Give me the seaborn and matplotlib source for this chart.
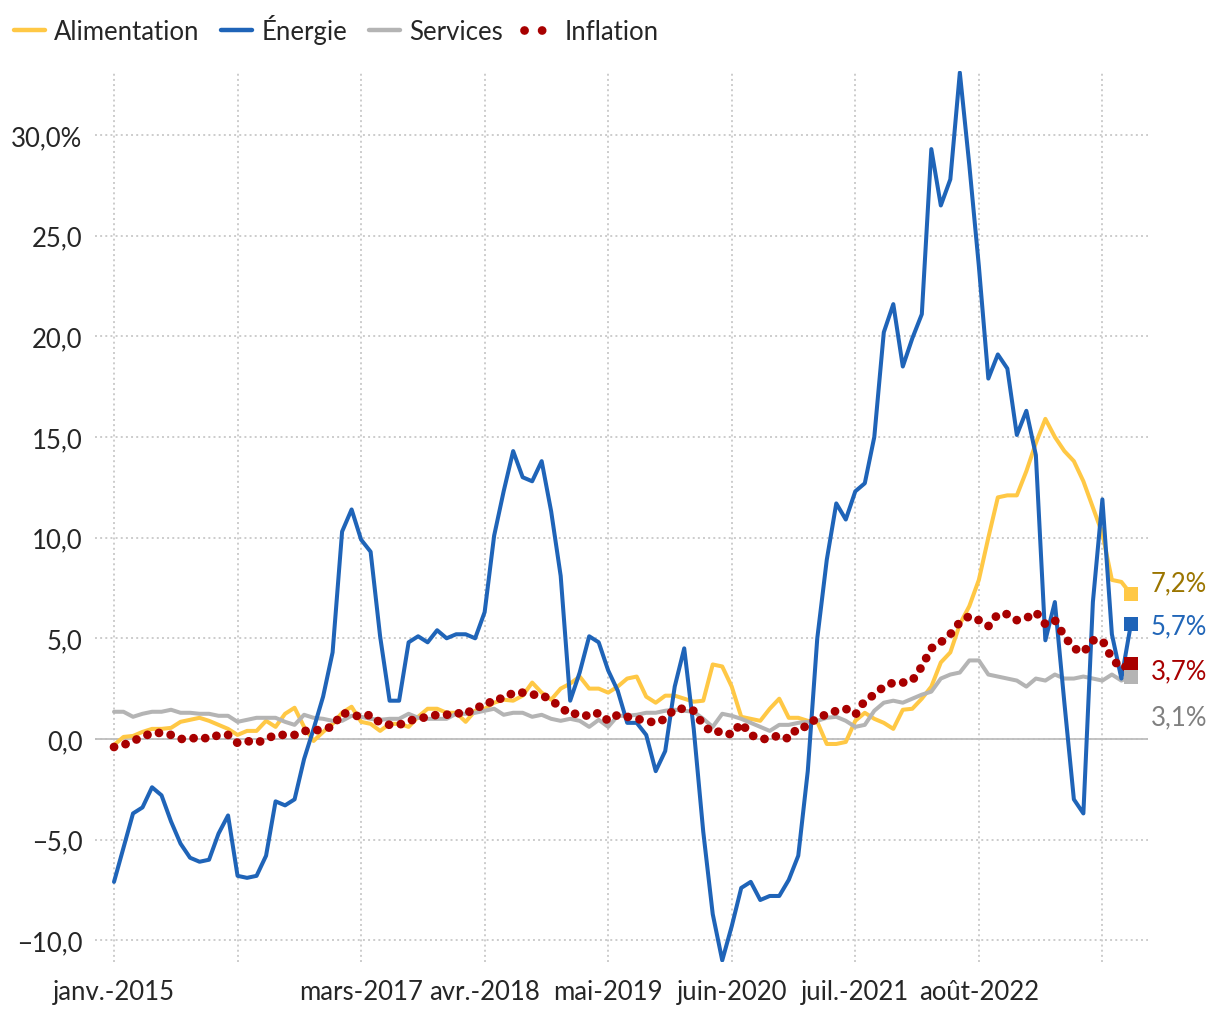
import numpy as np
import pandas as pd
import matplotlib
matplotlib.use('Agg')
import matplotlib.pyplot as plt
from matplotlib.lines import Line2D
import seaborn as sns

# monthly year-on-year change (%), janv.-2015 .. déc.-2023
alimentation = [-0.3, 0.1, 0.15, 0.35, 0.5, 0.5, 0.55, 0.85, 0.95, 1.05, 0.9, 0.7,
                0.5, 0.2, 0.4, 0.4, 0.9, 0.6, 1.25, 1.55, 0.6, -0.1, 0.35, 0.75,
                1.3, 1.6, 0.85, 0.75, 0.4, 0.75, 0.75, 0.6, 1.1, 1.5, 1.5, 1.3,
                1.3, 0.85, 1.4, 1.5, 1.8, 1.95, 1.9, 2.15, 2.8, 2.3, 1.95, 2.5,
                2.75, 3.1, 2.5, 2.5, 2.3, 2.6, 3.0, 3.1, 2.1, 1.8, 2.15, 2.15,
                2.0, 1.85, 1.9, 3.7, 3.6, 2.6, 1.1, 1.0, 0.9, 1.5, 2.0, 1.05,
                1.05, 0.9, 0.85, -0.25, -0.25, -0.15, 0.9, 1.3, 1.0, 0.8, 0.5, 1.45,
                1.5, 2.0, 2.6, 3.8, 4.3, 5.7, 6.6, 7.9, 10.0, 12.0, 12.1, 12.1,
                13.3, 14.7, 15.9, 15.0, 14.3, 13.8, 12.8, 11.5, 10.2, 7.9, 7.8, 7.2]
energie = [-7.1, -5.4, -3.7, -3.4, -2.4, -2.8, -4.1, -5.2, -5.9, -6.1, -6.0, -4.7,
           -3.8, -6.8, -6.9, -6.8, -5.8, -3.1, -3.3, -3.0, -1.0, 0.5, 2.1, 4.3,
           10.3, 11.4, 9.9, 9.3, 5.1, 1.9, 1.9, 4.8, 5.1, 4.8, 5.4, 5.0,
           5.2, 5.2, 5.0, 6.3, 10.1, 12.3, 14.3, 13.0, 12.8, 13.8, 11.3, 8.1,
           1.9, 3.3, 5.1, 4.8, 3.4, 2.4, 0.8, 0.8, 0.2, -1.6, -0.6, 2.6,
           4.5, 0.5, -4.6, -8.7, -11.0, -9.3, -7.4, -7.1, -8.0, -7.8, -7.8, -7.0,
           -5.8, -1.6, 5.0, 8.9, 11.7, 10.9, 12.3, 12.7, 15.0, 20.2, 21.6, 18.5,
           19.9, 21.1, 29.3, 26.5, 27.8, 33.1, 28.5, 23.5, 17.9, 19.1, 18.4, 15.1,
           16.3, 14.1, 4.9, 6.8, 1.8, -3.0, -3.7, 6.8, 11.9, 5.2, 3.0, 5.7]
services = [1.35, 1.35, 1.1, 1.25, 1.35, 1.35, 1.45, 1.3, 1.3, 1.25, 1.25, 1.15,
            1.15, 0.85, 0.95, 1.05, 1.05, 1.05, 0.85, 0.7, 1.2, 1.05, 1.0, 0.9,
            0.9, 1.15, 1.1, 1.0, 0.95, 1.0, 1.0, 1.25, 1.05, 1.0, 1.0, 1.0,
            1.25, 1.25, 1.3, 1.4, 1.5, 1.2, 1.3, 1.3, 1.1, 1.2, 1.0, 0.9,
            1.0, 0.9, 0.6, 0.95, 0.6, 1.15, 1.15, 1.2, 1.3, 1.3, 1.4, 1.45,
            1.4, 1.35, 1.0, 0.6, 1.25, 1.15, 1.0, 0.8, 0.6, 0.4, 0.7, 0.7,
            0.8, 0.85, 0.9, 1.05, 1.1, 0.9, 0.6, 0.7, 1.4, 1.8, 1.9, 1.8,
            2.0, 2.2, 2.35, 3.0, 3.2, 3.3, 3.9, 3.9, 3.2, 3.1, 3.0, 2.9,
            2.6, 3.0, 2.9, 3.2, 3.0, 3.0, 3.1, 3.0, 2.9, 3.2, 2.9, 3.1]
inflation = [-0.4, -0.3, -0.1, 0.1, 0.3, 0.3, 0.2, 0.0, 0.0, 0.1, 0.0, 0.2,
             0.2, -0.2, -0.1, -0.2, 0.0, 0.2, 0.2, 0.2, 0.4, 0.4, 0.5, 0.6,
             1.3, 1.2, 1.1, 1.2, 0.8, 0.7, 0.7, 0.9, 1.0, 1.1, 1.2, 1.2,
             1.3, 1.2, 1.6, 1.6, 2.0, 2.0, 2.3, 2.3, 2.2, 2.2, 1.9, 1.6,
             1.2, 1.3, 1.1, 1.3, 0.9, 1.2, 1.1, 1.0, 0.9, 0.8, 1.0, 1.5,
             1.5, 1.4, 0.7, 0.3, 0.4, 0.2, 0.8, 0.2, 0.0, 0.0, 0.2, 0.0,
             0.6, 0.6, 1.1, 1.2, 1.4, 1.5, 1.2, 1.9, 2.2, 2.6, 2.8, 2.8,
             2.9, 3.6, 4.5, 4.8, 5.2, 5.8, 6.1, 5.9, 5.6, 6.2, 6.2, 5.9,
             6.0, 6.3, 5.7, 5.9, 5.1, 4.5, 4.3, 4.9, 4.9, 4.0, 3.5, 3.7]

series_names = ['Alimentation', 'Énergie', 'Services', 'Inflation']
line_colors = ['#FFC845', '#1F64B8', '#B4B4B4', '#A80000']
label_colors = ['#9B7500', '#2166B8', '#A80000', '#808080']
end_labels = ['7,2%', '5,7%', '3,7%', '3,1%']

xtick_labels = ['janv.-2015', '', 'mars-2017', 'avr.-2018', 'mai-2019',
                'juin-2020', 'juil.-2021', 'août-2022', '']
ytick_values = [-10, -5, 0, 5, 10, 15, 20, 25, 30]
ytick_labels = ['−10,0', '−5,0', '0,0', '5,0', '10,0', '15,0', '20,0', '25,0', '30,0%']


def make_plot():
    df = pd.DataFrame({'mois': np.arange(len(energie)),
                       'Alimentation': alimentation,
                       'Énergie': energie,
                       'Services': services,
                       'Inflation': inflation})

    sns.set_style('white')
    plt.rcParams['font.family'] = ['Lato', 'DejaVu Sans']

    fig = plt.figure(figsize=(12.2, 10.2), dpi=100)
    ax = fig.add_axes([95 / 1220, 1 - 963 / 1020, (1148 - 95) / 1220, (963 - 72) / 1020])

    ax.axhline(0, color='#BEBEBE', lw=1.3, zorder=1)

    draw_order = ['Alimentation', 'Services', 'Énergie', 'Inflation']
    color_of = dict(zip(series_names, line_colors))
    for name in draw_order:
        sns.lineplot(data=df, x='mois', y=name, color=color_of[name], lw=2.9, ax=ax, zorder=3)
    dotted = ax.lines[-1]
    dotted.set_linewidth(6.3)
    dotted.set_linestyle((0, (0.01, 1.35)))
    dotted.set_dash_capstyle('round')
    dotted.set_zorder(4)

    # end-of-series squares and value labels
    last = len(energie) - 1
    ends = [alimentation[-1], energie[-1], inflation[-1], services[-1]]
    end_colors = [line_colors[0], line_colors[1], line_colors[3], line_colors[2]]
    label_offsets = [11, -2, -6, -40]
    for val, col, txt, tcol, off in zip(ends, end_colors, end_labels, label_colors, label_offsets):
        ax.scatter([last], [val], marker='s', s=100, color=col, zorder=6, clip_on=False, linewidths=0)
        ax.annotate(txt, xy=(last, val), xytext=(20, off), textcoords='offset pixels',
                    ha='left', va='center', fontsize=18.5, color=tcol, annotation_clip=False)

    ax.set_xlim(-2.0, 108.8)
    ax.set_ylim(-11.08, 33.18)
    ax.set_xticks(np.arange(0, 105, 13))
    ax.set_xticklabels(xtick_labels)
    ax.set_yticks(ytick_values)
    ax.set_yticklabels(ytick_labels)
    ax.set_xlabel('')
    ax.set_ylabel('')
    ax.grid(True, color='#CCCCCC', linestyle=':', lw=1.4)
    ax.tick_params(axis='both', length=0, labelsize=18.5)
    ax.tick_params(axis='y', pad=9)
    ax.tick_params(axis='x', pad=12)
    for s in ax.spines.values():
        s.set_visible(False)

    handles = [Line2D([0], [0], color=line_colors[0], lw=3.2),
               Line2D([0], [0], color=line_colors[1], lw=3.2),
               Line2D([0], [0], color=line_colors[2], lw=3.2),
               Line2D([0], [0], color=line_colors[3], lw=6.3, linestyle=(0, (0.01, 2.0)),
                      dash_capstyle='round')]
    fig.legend(handles, series_names, loc='upper left', bbox_to_anchor=(-0.003, 1.003),
               ncol=4, frameon=False, fontsize=18.5, handlelength=1.2,
               handletextpad=0.35, columnspacing=0.85, borderaxespad=0.3)

    fig.savefig('out.png', dpi=100)


if __name__ == '__main__':
    make_plot()
